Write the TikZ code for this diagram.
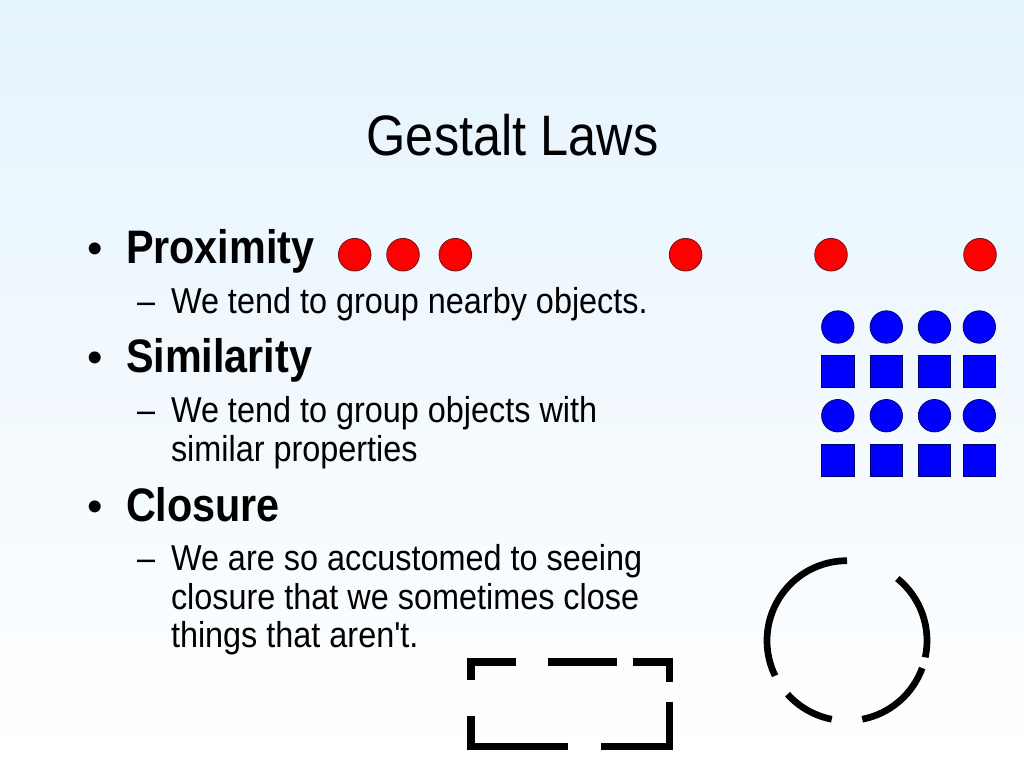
\documentclass[tikz,border=0pt]{standalone}
\usepackage{fontspec}
\usetikzlibrary{calc}
\setmainfont{Liberation Sans}
\newfontfamily\narrowf[FakeStretch=0.9]{Liberation Sans}
\newfontfamily\titlef[FakeStretch=0.885]{Liberation Sans}
\newfontfamily\headf[FakeStretch=0.88]{Liberation Sans Bold}
\definecolor{bgtop}{RGB}{229,243,253}
\definecolor{redfill}{RGB}{255,0,0}
\definecolor{redline}{RGB}{110,20,20}
\definecolor{bluefill}{RGB}{0,0,255}
\definecolor{blueline}{RGB}{0,0,110}
\begin{document}
\begin{tikzpicture}[x=1pt,y=-1pt,
  txt/.style={inner sep=0pt,outer sep=0pt,anchor=base west},
  titletxt/.style={inner sep=0pt,anchor=base,font=\titlef\fontsize{57}{62}\selectfont},
  headtxt/.style={txt,font=\headf\fontsize{47}{50}\selectfont},
  subtxt/.style={txt,font=\narrowf\fontsize{36}{39}\selectfont},
  bullettxt/.style={txt,font=\fontsize{44}{48}\selectfont},
  reddot/.style={circle,fill=redfill,draw=redline,line width=0.8pt,minimum size=32.6pt,inner sep=0pt},
  bluedot/.style={circle,fill=bluefill,draw=blueline,line width=0.8pt,minimum size=32.4pt,inner sep=0pt},
  bluesq/.style={rectangle,fill=bluefill,draw=blueline,line width=0.8pt,minimum size=32.3pt,inner sep=0pt},
  rectstroke/.style={line width=7.3pt,line join=miter,line cap=butt},
  arcstroke/.style={line width=6.7pt,line cap=butt}]
\useasboundingbox (0,0) rectangle (1024,768);
\shade[top color=bgtop,bottom color=white] (0,0) rectangle (1024,768);

% title
\node[titletxt] (title) at (512.5,155) {Gestalt Laws};

% bullets and headings
\node[bullettxt] (b1) at (87,263) {•};
\node[headtxt] (h1) at (126,263) {Proximity};
\node[subtxt] (d1) at (137,313) {–};
\node[subtxt] (s1) at (171,313) {We tend to group nearby objects.};

\node[bullettxt] (b2) at (87,372) {•};
\node[headtxt] (h2) at (126,372) {Similarity};
\node[subtxt] (d2) at (137,422) {–};
\node[subtxt] (s2a) at (171,422) {We tend to group objects with};
\node[subtxt] (s2b) at (171,461) {similar properties};

\node[bullettxt] (b3) at (87,521) {•};
\node[headtxt] (h3) at (126,521) {Closure};
\node[subtxt] (d3) at (137,570) {–};
\node[subtxt] (s3a) at (171,570) {We are so accustomed to seeing};
\node[subtxt] (s3b) at (171,609) {closure that we sometimes close};
\node[subtxt] (s3c) at (171,647) {things that aren't.};

% proximity dots
\node[reddot] (r1) at (354.7,254.7) {};
\node[reddot] (r2) at (403,254.7) {};
\node[reddot] (r3) at (455.3,254.7) {};
\node[reddot] (r4) at (685.6,254.7) {};
\node[reddot] (r5) at (831,254.7) {};
\node[reddot] (r6) at (980,254.7) {};

% similarity grid
\foreach \cx [count=\i] in {837.8,886.3,934.5,979.3} {
  \node[bluedot] (c1\i) at (\cx,327) {};
  \node[bluesq]  (q1\i) at (\cx,371.3) {};
  \node[bluedot] (c2\i) at (\cx,415.7) {};
  \node[bluesq]  (q2\i) at (\cx,460.3) {};
}

% closure: dashed rectangle
\draw[rectstroke] (471,680) -- (471,662) -- (515.7,662);
\draw[rectstroke] (548.3,662) -- (616.7,662);
\draw[rectstroke] (632.7,662) -- (669.7,662) -- (669.7,682.3);
\draw[rectstroke] (669.7,702.3) -- (669.7,746.3) -- (600.7,746.3);
\draw[rectstroke] (568.3,746.3) -- (471,746.3) -- (471,716);

% closure: broken circle
\coordinate (cc) at (847,640.7);
\draw[arcstroke] ($(cc)+(-90:80)$) arc[start angle=-90,end angle=-206,radius=80];
\draw[arcstroke] ($(cc)+(-222:80)$) arc[start angle=-222,end angle=-259,radius=80];
\draw[arcstroke] ($(cc)+(-281:80)$) arc[start angle=-281,end angle=-340,radius=80];
\draw[arcstroke] ($(cc)+(12:80)$) arc[start angle=12,end angle=-51,radius=80];
\end{tikzpicture}
\end{document}
